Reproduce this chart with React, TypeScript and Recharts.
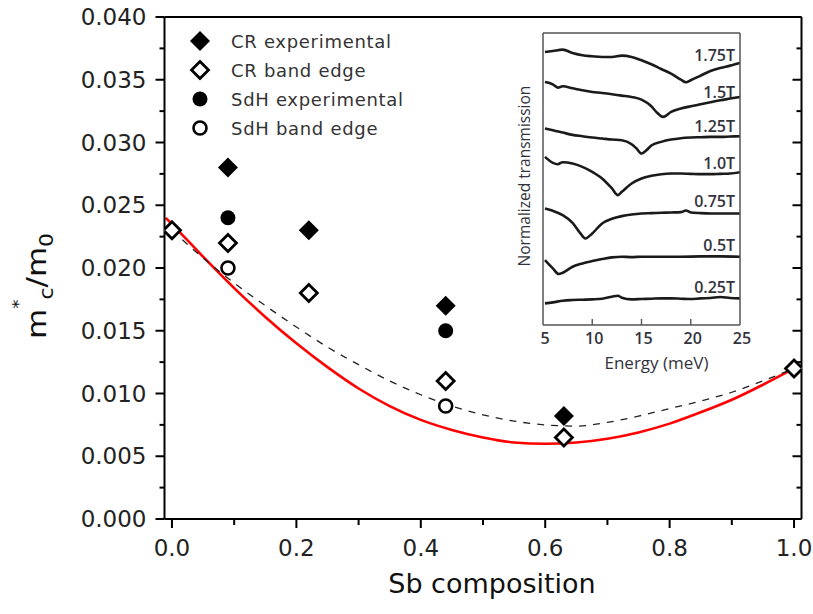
import {
  ComposedChart, LineChart, Line, Scatter, XAxis, YAxis, Legend, ReferenceDot,
} from 'recharts';

// main panel: effective mass vs Sb composition
const xTicks = [0, 0.1, 0.2, 0.3, 0.4, 0.5, 0.6, 0.7, 0.8, 0.9, 1.0];
const yTicks = [
  0, 0.0025, 0.005, 0.0075, 0.01, 0.0125, 0.015, 0.0175, 0.02,
  0.0225, 0.025, 0.0275, 0.03, 0.0325, 0.035, 0.0375, 0.04,
];

const crExpX = [0.09, 0.22, 0.44, 0.63];
const crExpY = [0.028, 0.023, 0.017, 0.0082];
const crEdgeX = [0, 0.09, 0.22, 0.44, 0.63, 1.0];
const crEdgeY = [0.023, 0.022, 0.018, 0.011, 0.0065, 0.012];
const sdhExpX = [0.09, 0.44];
const sdhExpY = [0.024, 0.015];
const sdhEdgeX = [0.09, 0.44];
const sdhEdgeY = [0.02, 0.009];

// red solid curve and black dashed curve
const redX = [-0.01, 0, 0.05, 0.1, 0.15, 0.2, 0.25, 0.3, 0.35, 0.4, 0.45, 0.5, 0.55, 0.6, 0.65, 0.7, 0.75, 0.8, 0.85, 0.9, 0.95, 1.0];
const redY = [0.0240, 0.0235, 0.0209, 0.0184, 0.0161, 0.0140, 0.0121, 0.0104, 0.0090, 0.0079, 0.0071, 0.0065, 0.0061, 0.0060, 0.0061, 0.0064, 0.0069, 0.0076, 0.0085, 0.0095, 0.0107, 0.0120];
const dashX = [0, 0.05, 0.1, 0.15, 0.2, 0.25, 0.3, 0.35, 0.4, 0.45, 0.5, 0.55, 0.6, 0.65, 0.7, 0.75, 0.8, 0.85, 0.9, 0.95, 1.0];
const dashY = [0.0230, 0.0208, 0.0188, 0.0170, 0.0153, 0.0137, 0.0123, 0.0110, 0.0099, 0.0090, 0.0083, 0.0078, 0.0075, 0.0074, 0.0077, 0.0082, 0.0088, 0.0094, 0.0101, 0.0110, 0.0120];

const seriesNames = ['CR experimental', 'CR band edge', 'SdH experimental', 'SdH band edge'];

// inset: normalized transmission spectra
const insetTicks = [5, 10, 15, 20, 25];
const e175 = [5.2, 6, 7, 8, 9, 10, 11, 12, 13, 14, 15, 16, 17, 18, 19, 19.5, 20, 21, 22, 23, 24, 25];
const t175 = [8.20, 8.23, 8.27, 8.17, 8.10, 8.07, 8.05, 8.05, 8.09, 8.05, 7.95, 7.83, 7.69, 7.55, 7.37, 7.29, 7.35, 7.49, 7.63, 7.72, 7.79, 7.87];
const e150 = [5.2, 6, 6.5, 7, 8, 9, 10, 11, 12, 13, 14, 15, 16, 16.5, 17.2, 18, 19, 20, 21, 22, 23, 24, 25];
const t150 = [7.30, 7.23, 7.13, 7.17, 7.11, 7.05, 7.00, 6.97, 6.93, 6.89, 6.85, 6.77, 6.57, 6.40, 6.25, 6.40, 6.50, 6.57, 6.63, 6.69, 6.75, 6.80, 6.85];
const e125 = [5.2, 6, 7, 8, 9, 10, 11, 12, 13, 14, 14.5, 15, 15.5, 16, 17, 18, 19, 20, 21, 22, 23, 24, 25];
const t125 = [5.90, 5.85, 5.78, 5.71, 5.67, 5.63, 5.60, 5.57, 5.55, 5.43, 5.30, 5.15, 5.25, 5.39, 5.50, 5.57, 5.61, 5.63, 5.64, 5.65, 5.65, 5.66, 5.67];
const e100 = [5.2, 6, 6.5, 7, 8, 9, 10, 11, 12, 12.6, 13, 14, 15, 16, 17, 18, 19, 20, 21, 22, 23, 24, 25];
const t100 = [5.05, 4.87, 4.83, 4.89, 4.85, 4.75, 4.60, 4.40, 4.10, 3.90, 4.00, 4.25, 4.40, 4.48, 4.53, 4.55, 4.55, 4.54, 4.53, 4.53, 4.54, 4.55, 4.59];
const e075 = [5.2, 6, 7, 8, 8.8, 9.3, 10, 11, 12, 13, 14, 15, 16, 17, 18, 19, 19.5, 20, 21, 22, 23, 24, 25];
const t075 = [3.50, 3.43, 3.30, 3.07, 2.75, 2.60, 2.75, 3.05, 3.19, 3.27, 3.32, 3.35, 3.36, 3.37, 3.38, 3.39, 3.44, 3.38, 3.36, 3.35, 3.35, 3.35, 3.35];
const e050 = [5.2, 6, 6.6, 7, 8, 9, 10, 11, 12, 13, 14, 15, 17, 19, 21, 23, 25];
const t050 = [1.95, 1.70, 1.53, 1.57, 1.75, 1.85, 1.92, 1.98, 2.03, 2.05, 2.04, 2.05, 2.05, 2.05, 2.06, 2.06, 2.05];
const e025 = [5.2, 6, 7, 8, 9, 10, 11, 12, 12.6, 13, 14, 15, 16, 17, 18, 19, 20, 21, 22, 23, 24, 25];
const t025 = [0.65, 0.68, 0.73, 0.75, 0.76, 0.77, 0.79, 0.85, 0.88, 0.82, 0.77, 0.78, 0.79, 0.80, 0.80, 0.79, 0.78, 0.80, 0.81, 0.84, 0.81, 0.80];

const fieldLabels = ['1.75T', '1.5T', '1.25T', '1.0T', '0.75T', '0.5T', '0.25T'];
const fieldLabelY = [8.11, 7.0, 5.98, 4.87, 3.72, 2.40, 1.14];

const FONT = '"DejaVu Sans", Verdana, sans-serif';
const INSET_FONT = '"Open Sans", sans-serif';
const INK = '#33333d';

const zip = (xs: number[], ys: number[]) => xs.map((x, i) => ({ x, y: ys[i] }));
const zipE = (es: number[], ts: number[]) => es.map((e, i) => ({ e, t: ts[i] }));

const insetCurves = [
  zipE(e175, t175), zipE(e150, t150), zipE(e125, t125), zipE(e100, t100),
  zipE(e075, t075), zipE(e050, t050), zipE(e025, t025),
];

const isMult = (v: number, step: number) => Math.abs(Math.round(v / step) * step - v) < 1e-6;

// marker shapes
function FilledDiamond({ cx, cy }: any) {
  return <path d={`M${cx},${cy - 10}L${cx + 10},${cy}L${cx},${cy + 10}L${cx - 10},${cy}Z`} fill="#000" />;
}
function OpenDiamond({ cx, cy }: any) {
  return <path d={`M${cx},${cy - 8.5}L${cx + 8.5},${cy}L${cx},${cy + 8.5}L${cx - 8.5},${cy}Z`} fill="#fff" stroke="#000" strokeWidth={2.8} />;
}
function FilledCircle({ cx, cy }: any) {
  return <circle cx={cx} cy={cy} r={7.5} fill="#000" />;
}
function OpenCircle({ cx, cy }: any) {
  return <circle cx={cx} cy={cy} r={6.5} fill="#fff" stroke="#000" strokeWidth={2.6} />;
}
const shapes = [FilledDiamond, OpenDiamond, FilledCircle, OpenCircle];

// axis ticks
function LeftTick({ x, y, payload }: any) {
  const major = isMult(payload.value, 0.005);
  return (
    <g>
      <line x1={x} x2={x - (major ? 9 : 5)} y1={y} y2={y} stroke="#000" strokeWidth={2} />
      {major && (
        <text x={x - 18} y={y} textAnchor="end" dominantBaseline="central" fontFamily={FONT} fontSize={23} fill="#222">
          {payload.value.toFixed(3)}
        </text>
      )}
    </g>
  );
}
function RightTick({ x, y, payload }: any) {
  const major = isMult(payload.value, 0.005);
  return <line x1={x} x2={x - (major ? 9 : 5)} y1={y} y2={y} stroke="#000" strokeWidth={2} />;
}
function BottomTick({ x, y, payload }: any) {
  const major = isMult(payload.value, 0.2);
  return (
    <g>
      <line x1={x} x2={x} y1={y} y2={y + (major ? 9 : 6)} stroke="#000" strokeWidth={2} />
      {major && (
        <text x={x} y={y + 29} textAnchor="middle" dominantBaseline="central" fontFamily={FONT} fontSize={23} fill="#222">
          {payload.value.toFixed(1)}
        </text>
      )}
    </g>
  );
}
function TopTick({ x, y, payload }: any) {
  const major = isMult(payload.value, 0.2);
  return <line x1={x} x2={x} y1={y} y2={y + (major ? 8 : 6)} stroke="#000" strokeWidth={2} />;
}

function YTitle({ viewBox }: any) {
  const cx = viewBox.x + 31;
  const cy = viewBox.y + viewBox.height / 2 + 18;
  return (
    <text transform={`translate(${cx},${cy}) rotate(-90) scale(1.15,1)`} textAnchor="middle" fontFamily={FONT} fontSize={27} fill="#111">
      <tspan>m</tspan>
      <tspan fontSize={16} dy={-22}>*</tspan>
      <tspan fontSize={19} dy={29}>c</tspan>
      <tspan dy={-7}>/m</tspan>
      <tspan fontSize={19} dy={7}>0</tspan>
    </text>
  );
}
function XTitle({ viewBox }: any) {
  return (
    <text x={viewBox.x + viewBox.width / 2 + 9} y={viewBox.y + 64} textAnchor="middle" dominantBaseline="central" fontFamily={FONT} fontSize={27} fill="#111">
      Sb composition
    </text>
  );
}

function LegendBox() {
  return (
    <svg width={260} height={120}>
      {seriesNames.map((name, i) => {
        const Shape = shapes[i];
        const cy = 16 + i * 29;
        return (
          <g key={name}>
            <Shape cx={20} cy={cy} />
            <text x={51} y={cy} dominantBaseline="central" fontFamily={FONT} fontSize={18} letterSpacing={0.7} fill="#333">
              {name}
            </text>
          </g>
        );
      })}
    </svg>
  );
}

// inset axes
function InsetBottomTick({ x, y, payload }: any) {
  const v = payload.value;
  const inner = v > 5 && v < 25;
  return (
    <g>
      {inner && <line x1={x} x2={x} y1={y} y2={y - 6} stroke="#555" strokeWidth={1.4} />}
      <text x={x + 2} y={y + 13} textAnchor="middle" dominantBaseline="central" fontFamily={INSET_FONT} fontWeight={600} fontSize={16} fill={INK}>
        {v}
      </text>
    </g>
  );
}
function InsetTopTick({ x, y, payload }: any) {
  const v = payload.value;
  if (v <= 5 || v >= 25) return <g />;
  return <line x1={x} x2={x} y1={y} y2={y + 5} stroke="#555" strokeWidth={1.4} />;
}
function InsetYTitle({ viewBox }: any) {
  const cx = viewBox.x + 21;
  const cy = viewBox.y + viewBox.height / 2 - 3;
  return (
    <text transform={`translate(${cx},${cy}) rotate(-90)`} textAnchor="middle" dominantBaseline="central" fontFamily={INSET_FONT} fontWeight={500} fontSize={15.5} fill={INK}>
      Normalized transmission
    </text>
  );
}
function InsetXTitle({ viewBox }: any) {
  return (
    <text x={viewBox.x + viewBox.width / 2 + 15} y={viewBox.y + 37} textAnchor="middle" dominantBaseline="central" fontFamily={INSET_FONT} fontWeight={500} fontSize={17} fill={INK}>
      Energy (meV)
    </text>
  );
}
const fieldLabel = (text: string) => ({ viewBox }: any) => (
  <text x={viewBox.x} y={viewBox.y} textAnchor="end" dominantBaseline="central" fontFamily={INSET_FONT} fontWeight={600} fontSize={16} fill={INK}>
    {text}
  </text>
);

function Inset() {
  return (
    <LineChart width={290} height={360} margin={{ top: 12, right: 19, bottom: 5, left: 33 }}>
      <XAxis xAxisId="b" dataKey="e" type="number" domain={[5, 25]} ticks={insetTicks} allowDataOverflow
        axisLine={{ stroke: '#555', strokeWidth: 1.5 }} tickLine={false} tickSize={0} tickMargin={0} height={50}
        tick={<InsetBottomTick />} label={<InsetXTitle />} />
      <XAxis xAxisId="t" orientation="top" type="number" domain={[5, 25]} ticks={insetTicks} allowDataOverflow
        axisLine={{ stroke: '#555', strokeWidth: 1.5 }} tickLine={false} tickSize={0} tickMargin={0} height={1}
        tick={<InsetTopTick />} />
      <YAxis yAxisId="l" type="number" domain={[0, 8.77]} allowDataOverflow width={40} tick={false} tickLine={false}
        axisLine={{ stroke: '#555', strokeWidth: 1.5 }} label={<InsetYTitle />} />
      <YAxis yAxisId="r" orientation="right" type="number" domain={[0, 8.77]} allowDataOverflow width={1} tick={false}
        tickLine={false} axisLine={{ stroke: '#555', strokeWidth: 1.5 }} />
      {insetCurves.map((curve, i) => (
        <Line key={fieldLabels[i]} xAxisId="b" yAxisId="l" data={curve} dataKey="t" type="monotone"
          stroke="#1a1a1a" strokeWidth={2.6} dot={false} isAnimationActive={false} />
      ))}
      {fieldLabels.map((text, i) => (
        <ReferenceDot key={text} xAxisId="b" yAxisId="l" x={24.5} y={fieldLabelY[i]} r={0}
          fill="none" stroke="none" label={fieldLabel(text)} />
      ))}
    </LineChart>
  );
}

export default function App() {
  const series = [zip(crExpX, crExpY), zip(crEdgeX, crEdgeY), zip(sdhExpX, sdhExpY), zip(sdhEdgeX, sdhEdgeY)];
  return (
    <div style={{ position: 'absolute', left: 0, top: 0, width: 813, height: 614, background: '#fff' }}>
      <ComposedChart width={813} height={614} margin={{ top: 16, right: 10.5, bottom: 35, left: 14.5 }}>
        <XAxis xAxisId="b" dataKey="x" type="number" domain={[-0.012, 1.012]} ticks={xTicks} allowDataOverflow
          axisLine={{ stroke: '#000', strokeWidth: 2 }} tickLine={false} tickSize={0} tickMargin={0} height={60}
          tick={<BottomTick />} label={<XTitle />} />
        <XAxis xAxisId="t" orientation="top" type="number" domain={[-0.012, 1.012]} ticks={xTicks} allowDataOverflow
          axisLine={{ stroke: '#000', strokeWidth: 2 }} tickLine={false} tickSize={0} tickMargin={0} height={1}
          tick={<TopTick />} />
        <YAxis yAxisId="l" dataKey="y" type="number" domain={[0, 0.04]} ticks={yTicks} allowDataOverflow
          axisLine={{ stroke: '#000', strokeWidth: 2 }} tickLine={false} tickSize={0} tickMargin={0} width={150}
          tick={<LeftTick />} label={<YTitle />} />
        <YAxis yAxisId="r" orientation="right" type="number" domain={[0, 0.04]} ticks={yTicks} allowDataOverflow
          axisLine={{ stroke: '#000', strokeWidth: 2 }} tickLine={false} tickSize={0} tickMargin={0} width={1}
          tick={<RightTick />} />
        <Line xAxisId="b" yAxisId="l" data={zip(redX, redY)} dataKey="y" type="monotone" stroke="#ff0000"
          strokeWidth={2.6} dot={false} isAnimationActive={false} legendType="none" />
        <Line xAxisId="b" yAxisId="l" data={zip(dashX, dashY)} dataKey="y" type="monotone" stroke="#222"
          strokeWidth={1.3} strokeDasharray="7 7" dot={false} isAnimationActive={false} legendType="none" />
        {series.map((data, i) => {
          const Shape = shapes[i];
          return (
            <Scatter key={seriesNames[i]} name={seriesNames[i]} xAxisId="b" yAxisId="l" data={data}
              shape={(p: any) => <Shape cx={p.cx} cy={p.cy} />} isAnimationActive={false} />
          );
        })}
        <Legend layout="vertical" align="center" verticalAlign="middle" content={<LegendBox />}
          wrapperStyle={{ left: 180, top: 25, width: 260, height: 120 }} />
      </ComposedChart>
      <div style={{ position: 'absolute', left: 470, top: 20, width: 290, height: 360 }}>
        <Inset />
      </div>
    </div>
  );
}
